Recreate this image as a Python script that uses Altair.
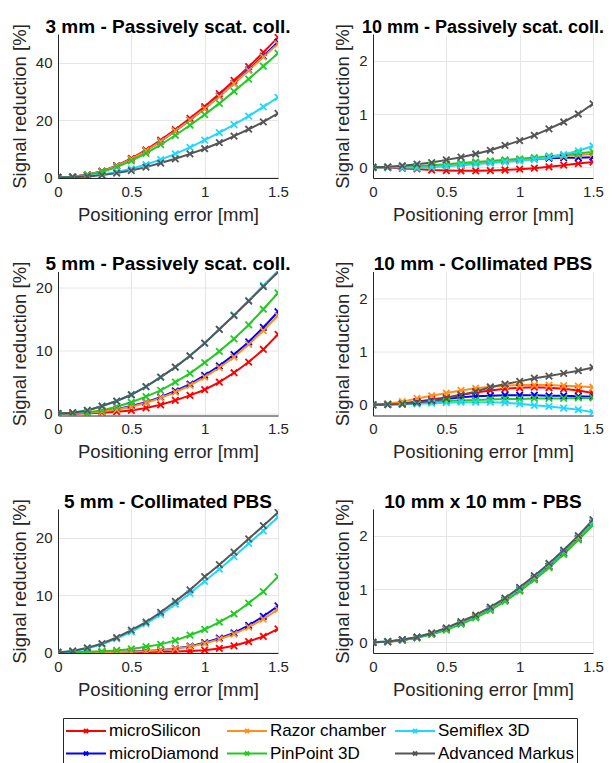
import altair as alt
import pandas as pd

# ---------------- data ----------------
X = [0.0, 0.1, 0.2, 0.3, 0.4, 0.5, 0.6, 0.7, 0.8, 0.9, 1.0, 1.1, 1.2, 1.3, 1.4, 1.5]

SERIES = ["microSilicon", "microDiamond", "Razor chamber", "PinPoint 3D", "Semiflex 3D", "Advanced Markus"]
COLORS = ["#FF0000", "#0000FF", "#FF9020", "#20CC20", "#20D8FF", "#555555"]

TITLES = [
    "3 mm - Passively scat. coll.",
    "10 mm - Passively scat. coll.",
    "5 mm - Passively scat. coll.",
    "10 mm - Collimated PBS",
    "5 mm - Collimated PBS",
    "10 mm x 10 mm - PBS",
]
TITLE_SIZES = [19, 18, 19, 19, 19, 19]
Y_DOMAINS = [[-0.2, 50], [-0.2, 2.5], [-0.3, 22.6], [-0.2, 2.5], [-0.1, 25], [-0.2, 2.5]]
Y_TICKS = [[0, 20, 40], [0, 1, 2], [0, 10, 20], [0, 1, 2], [0, 10, 20], [0, 1, 2]]

P1 = {
    "microSilicon":    [0, 0.2, 0.9, 2.2, 4.1, 6.6, 9.6, 13.0, 16.7, 20.6, 24.7, 29.2, 33.8, 38.6, 43.6, 48.8],
    "microDiamond":    [0, 0.2, 0.9, 2.1, 4.0, 6.4, 9.3, 12.6, 16.2, 20.0, 24.0, 28.3, 32.8, 37.5, 42.3, 47.1],
    "Razor chamber":   [0, 0.2, 0.9, 2.1, 4.0, 6.4, 9.3, 12.6, 16.2, 20.0, 24.0, 28.2, 32.7, 37.3, 42.0, 46.6],
    "PinPoint 3D":     [0, 0.2, 0.8, 1.9, 3.6, 5.8, 8.4, 11.4, 14.7, 18.2, 21.9, 25.8, 30.0, 34.3, 38.8, 43.3],
    "Semiflex 3D":     [0, 0.1, 0.4, 1.0, 1.9, 3.0, 4.5, 6.2, 8.2, 10.5, 13.0, 15.6, 18.4, 21.4, 24.6, 27.9],
    "Advanced Markus": [0, 0.1, 0.3, 0.8, 1.5, 2.4, 3.6, 5.0, 6.5, 8.2, 10.0, 12.1, 14.4, 16.8, 19.4, 22.3],
}
P2 = {
    "microSilicon":    [0, -0.005, -0.02, -0.03, -0.05, -0.06, -0.065, -0.065, -0.06, -0.05, -0.035, -0.015, 0.01, 0.04, 0.07, 0.1],
    "microDiamond":    [0, 0, 0.01, 0.01, 0.02, 0.04, 0.06, 0.08, 0.1, 0.12, 0.14, 0.16, 0.17, 0.18, 0.18, 0.19],
    "Razor chamber":   [0, 0, 0.01, 0.02, 0.03, 0.05, 0.07, 0.09, 0.11, 0.13, 0.15, 0.17, 0.19, 0.21, 0.23, 0.25],
    "PinPoint 3D":     [0, 0, 0.01, 0.02, 0.04, 0.06, 0.08, 0.1, 0.12, 0.14, 0.16, 0.18, 0.21, 0.23, 0.26, 0.29],
    "Semiflex 3D":     [0, 0, -0.005, -0.01, 0, 0.02, 0.04, 0.06, 0.08, 0.1, 0.12, 0.15, 0.19, 0.24, 0.31, 0.4],
    "Advanced Markus": [0, 0.01, 0.03, 0.06, 0.09, 0.14, 0.19, 0.25, 0.32, 0.41, 0.5, 0.6, 0.72, 0.85, 1.0, 1.19],
}
P3 = {
    "microSilicon":    [0, 0.01, 0.05, 0.15, 0.3, 0.5, 0.9, 1.4, 2.1, 2.9, 3.8, 5.0, 6.5, 8.2, 10.2, 12.6],
    "microDiamond":    [0, 0.03, 0.12, 0.35, 0.7, 1.2, 1.8, 2.6, 3.6, 4.7, 6.1, 7.6, 9.4, 11.4, 13.7, 16.2],
    "Razor chamber":   [0, 0.03, 0.11, 0.32, 0.65, 1.1, 1.7, 2.5, 3.4, 4.5, 5.8, 7.3, 9.0, 11.0, 13.2, 15.6],
    "PinPoint 3D":     [0, 0.05, 0.2, 0.5, 1.1, 1.8, 2.7, 3.7, 5.0, 6.4, 8.1, 9.9, 11.9, 14.1, 16.6, 19.2],
    "Semiflex 3D":     [0, 0.15, 0.5, 1.2, 2.0, 3.0, 4.3, 5.8, 7.4, 9.2, 11.2, 13.4, 15.7, 18.0, 20.4, 22.7],
    "Advanced Markus": [0, 0.15, 0.5, 1.2, 2.0, 3.0, 4.3, 5.8, 7.4, 9.2, 11.2, 13.4, 15.6, 17.9, 20.2, 22.5],
}
P4 = {
    "microSilicon":    [0, 0.01, 0.03, 0.06, 0.1, 0.14, 0.19, 0.23, 0.27, 0.3, 0.32, 0.33, 0.32, 0.3, 0.27, 0.22],
    "microDiamond":    [0, 0.01, 0.02, 0.05, 0.08, 0.11, 0.14, 0.16, 0.17, 0.18, 0.18, 0.18, 0.17, 0.17, 0.16, 0.15],
    "Razor chamber":   [0, 0.02, 0.06, 0.12, 0.17, 0.22, 0.27, 0.31, 0.34, 0.36, 0.37, 0.37, 0.37, 0.36, 0.35, 0.33],
    "PinPoint 3D":     [0, 0.01, 0.02, 0.03, 0.05, 0.07, 0.08, 0.09, 0.1, 0.11, 0.11, 0.12, 0.12, 0.12, 0.13, 0.13],
    "Semiflex 3D":     [0, 0.005, 0.01, 0.02, 0.03, 0.04, 0.05, 0.05, 0.05, 0.04, 0.02, -0.01, -0.03, -0.06, -0.09, -0.14],
    "Advanced Markus": [0, 0.005, 0.015, 0.04, 0.075, 0.12, 0.18, 0.25, 0.33, 0.39, 0.44, 0.5, 0.54, 0.59, 0.64, 0.7],
}
P5 = {
    "microSilicon":    [0, 0, 0, 0.01, 0.02, 0.04, 0.07, 0.1, 0.15, 0.25, 0.4, 0.7, 1.15, 1.9, 2.8, 4.1],
    "microDiamond":    [0, 0, 0.02, 0.05, 0.1, 0.15, 0.25, 0.4, 0.7, 1.1, 1.7, 2.5, 3.4, 4.7, 6.3, 8.1],
    "Razor chamber":   [0, 0, 0.02, 0.04, 0.08, 0.13, 0.22, 0.37, 0.65, 1.0, 1.55, 2.3, 3.2, 4.4, 5.8, 7.5],
    "PinPoint 3D":     [0, 0.03, 0.1, 0.2, 0.35, 0.6, 1.0, 1.4, 2.1, 3.0, 4.0, 5.3, 6.7, 8.6, 10.6, 13.2],
    "Semiflex 3D":     [0, 0.2, 0.7, 1.4, 2.4, 3.6, 5.0, 6.6, 8.4, 10.3, 12.4, 14.5, 16.7, 19.0, 21.2, 23.6],
    "Advanced Markus": [0, 0.25, 0.8, 1.55, 2.6, 3.9, 5.3, 7.0, 8.9, 10.9, 13.2, 15.3, 17.5, 19.8, 22.1, 24.4],
}
P6 = {
    "microSilicon":    [0, 0.013, 0.045, 0.09, 0.16, 0.25, 0.36, 0.48, 0.63, 0.79, 0.98, 1.2, 1.43, 1.68, 1.95, 2.24],
    "microDiamond":    [0, 0.013, 0.045, 0.09, 0.16, 0.25, 0.36, 0.48, 0.63, 0.79, 0.98, 1.19, 1.42, 1.67, 1.94, 2.23],
    "Razor chamber":   [0, 0.012, 0.043, 0.09, 0.155, 0.24, 0.35, 0.47, 0.62, 0.78, 0.97, 1.18, 1.41, 1.66, 1.93, 2.22],
    "PinPoint 3D":     [0, 0.012, 0.04, 0.085, 0.15, 0.23, 0.34, 0.46, 0.6, 0.77, 0.96, 1.17, 1.4, 1.65, 1.92, 2.2],
    "Semiflex 3D":     [0, 0.014, 0.048, 0.097, 0.17, 0.26, 0.38, 0.5, 0.65, 0.82, 1.01, 1.23, 1.46, 1.71, 1.98, 2.27],
    "Advanced Markus": [0, 0.015, 0.05, 0.1, 0.175, 0.27, 0.39, 0.51, 0.66, 0.83, 1.03, 1.25, 1.48, 1.73, 2.0, 2.3],
}
PANELS = [P1, P2, P3, P4, P5, P6]

# ---------------- chart ----------------
FONT = "Liberation Sans"
XMARK = "M-1,-1L1,1M-1,1L1,-1"
LEGEND_SYMBOL = "M-1,0L3,0M0.8,-0.2L1.2,0.2M0.8,0.2L1.2,-0.2"

color_scale = alt.Scale(domain=SERIES, range=COLORS)
legend = alt.Legend(
    title=None, orient="none", legendX=5, legendY=684, columns=3,
    symbolType=LEGEND_SYMBOL, symbolSize=400, symbolStrokeWidth=2,
    labelFont=FONT, labelFontSize=17, labelColor="#000000", labelOffset=22,
    columnPadding=4, rowPadding=3.5, padding=2,
    strokeColor="#262626", fillColor="white", labelLimit=300,
)


def panel(i):
    rows = []
    for s in SERIES:
        for xv, yv in zip(X, PANELS[i][s]):
            rows.append({"x": xv, "y": yv, "series": s})
    df = pd.DataFrame(rows)
    xenc = alt.X("x:Q", scale=alt.Scale(domain=[0, 1.5], nice=False),
                 axis=alt.Axis(values=[0, 0.5, 1, 1.5], format=".1~f",
                               title="Positioning error [mm]"))
    yenc = alt.Y("y:Q", scale=alt.Scale(domain=Y_DOMAINS[i], nice=False, zero=False),
                 axis=alt.Axis(values=Y_TICKS[i], format="d", title="Signal reduction [%]"))
    cenc = alt.Color("series:N", scale=color_scale, legend=legend)
    base = alt.Chart(df)
    lines = base.mark_line(strokeWidth=2, clip=True).encode(x=xenc, y=yenc, color=cenc, detail="series:N")
    pts = base.mark_point(shape=XMARK, filled=False, size=42, strokeWidth=1.8, opacity=1, clip=True).encode(
        x=xenc, y=yenc, color=cenc)
    return alt.layer(lines, pts).resolve_scale(y="shared").properties(
        width=220, height=144,
        title=alt.TitleParams(TITLES[i], font=FONT, fontSize=TITLE_SIZES[i], fontWeight="bold",
                              color="#000000", anchor="middle", frame="group", offset=-13),
    )


chart = alt.concat(
    *[panel(i) for i in range(6)], columns=2,
    spacing=alt.RowColnumber(row=93.5, column=95), bounds="flush",
).resolve_scale(x="independent", y="independent").properties(
    padding={"left": 2, "top": 9, "right": 0, "bottom": 0}
).configure_view(stroke=None).configure_axis(
    labelFont=FONT, titleFont=FONT, labelFontSize=15, titleFontSize=18.5,
    titleFontWeight="normal", labelColor="#262626", titleColor="#262626",
    domainColor="#262626", domainWidth=1, gridColor="#e6e6e6", gridWidth=1,
    ticks=False, labelPadding=6, titlePadding=6, labelFlush=False,
)

chart.save("out.html", embed_options={"renderer": "svg", "actions": False})
